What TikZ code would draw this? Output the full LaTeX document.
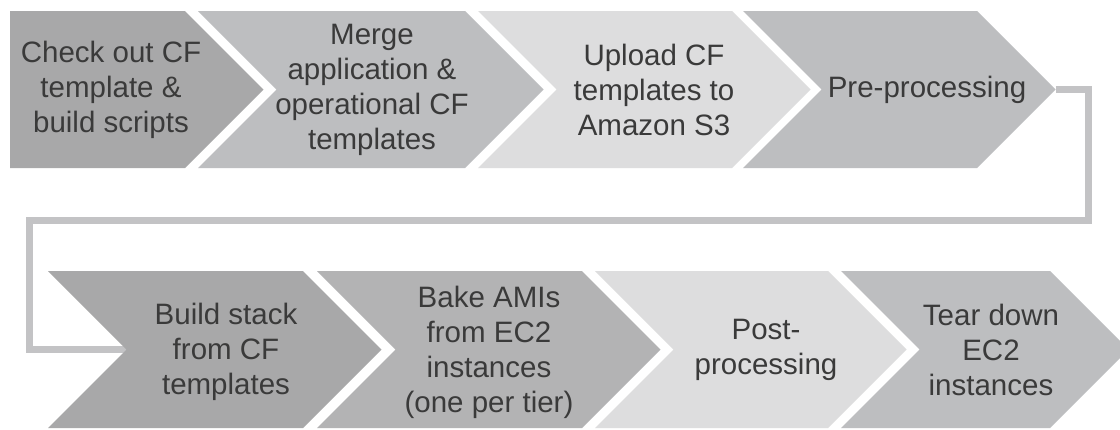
\documentclass[tikz,border=0pt]{standalone}
\usepackage{fontspec}
\setmainfont{Liberation Sans}
\definecolor{txtgray}{HTML}{3A3A3A}
\definecolor{linkgray}{HTML}{C3C3C5}
\definecolor{cdark}{HTML}{A8A8A9}
\definecolor{cmid}{HTML}{BDBEC0}
\definecolor{clight}{HTML}{DDDDDE}
\definecolor{cbake}{HTML}{B3B3B4}
\tikzset{
  chev/.style={draw=none},
  lbl/.style={align=center, text=txtgray, inner sep=0pt,
    font=\fontsize{29.5}{35}\selectfont},
  link/.style={draw=linkgray, line width=7pt, line join=miter}
}
\begin{document}
\begin{tikzpicture}[x=1pt,y=-1pt]
\useasboundingbox[fill=white] (0,0) rectangle (1120,429);
% connector coordinates
\coordinate (tipS4) at (1055.5,89.5);
\coordinate (c1) at (1088,89.5);
\coordinate (c2) at (1088,220);
\coordinate (c3) at (29,220);
\coordinate (c4) at (29,349.5);
\coordinate (notchB1) at (126.5,349.5);
\draw[link] (tipS4) -- (c1) -- (c2) -- (c3) -- (c4) -- (notchB1);
% top row
\fill[cdark]  (10,11) -- (185,11) -- (263.5,89.5) -- (185,168) -- (10,168) -- cycle;
\fill[cmid]   (198,11) -- (465,11) -- (543.5,89.5) -- (465,168) -- (198,168) -- (276.5,89.5) -- cycle;
\fill[clight] (478,11) -- (732,11) -- (810.5,89.5) -- (732,168) -- (478,168) -- (556.5,89.5) -- cycle;
\fill[cmid]   (743,11) -- (977,11) -- (1055.5,89.5) -- (977,168) -- (743,168) -- (821.5,89.5) -- cycle;
% bottom row
\fill[cdark]  (48,271) -- (303,271) -- (381.5,349.5) -- (303,428) -- (48,428) -- (126.5,349.5) -- cycle;
\fill[cbake]  (317,271) -- (582,271) -- (660.5,349.5) -- (582,428) -- (317,428) -- (395.5,349.5) -- cycle;
\fill[clight] (595,271) -- (828,271) -- (906.5,349.5) -- (828,428) -- (595,428) -- (673.5,349.5) -- cycle;
\fill[cmid]   (841,271) -- (1050,271) -- (1128.5,349.5) -- (1050,428) -- (841,428) -- (919.5,349.5) -- cycle;
% labels
\node[lbl] (t1) at (111,90) {Check out CF\\template \&\\build scripts};
\node[lbl] (t2) at (372,89.5) {Merge\\application \&\\operational CF\\templates};
\node[lbl] (t3) at (654,89.5) {Upload CF\\templates to\\Amazon S3};
\node[lbl] (t4) at (927,90) {Pre-processing};
\node[lbl] (b1) at (226,352) {Build stack\\from CF\\templates};
\node[lbl] (b2) at (489,352.5) {Bake AMIs\\from EC2\\instances\\(one per tier)};
\node[lbl] (b3) at (766,350) {Post-\\processing};
\node[lbl] (b4) at (991,350) {Tear down\\EC2\\instances};
\end{tikzpicture}
\end{document}
